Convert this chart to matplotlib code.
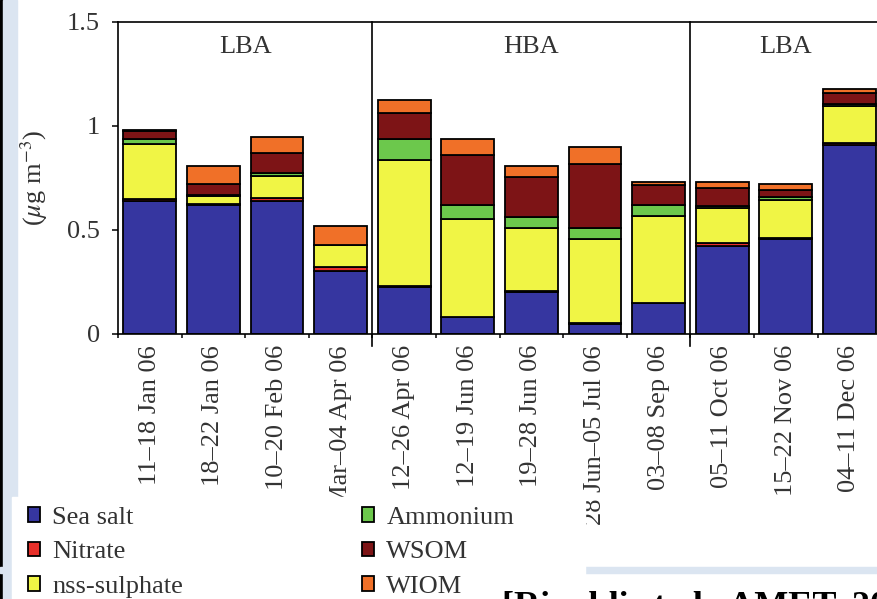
import matplotlib.pyplot as plt
import numpy as np
from matplotlib.patches import Rectangle

plt.rcParams["font.family"] = ["Liberation Serif", "DejaVu Serif"]
plt.rcParams["mathtext.fontset"] = "stix"

# --- data ---
periods = ["11–18 Jan 06", "18–22 Jan 06", "10–20 Feb 06", "29 Mar–04 Apr 06",
           "12–26 Apr 06", "12–19 Jun 06", "19–28 Jun 06", "28 Jun–05 Jul 06",
           "03–08 Sep 06", "05–11 Oct 06", "15–22 Nov 06", "04–11 Dec 06"]
sea_salt = [0.640, 0.620, 0.640, 0.305, 0.225, 0.080, 0.200, 0.050, 0.148, 0.425, 0.455, 0.910]
nitrate = [0.010, 0.005, 0.012, 0.015, 0.005, 0.003, 0.005, 0.003, 0.003, 0.012, 0.007, 0.010]
nss_sulphate = [0.262, 0.037, 0.110, 0.107, 0.608, 0.471, 0.306, 0.405, 0.418, 0.170, 0.180, 0.175]
ammonium = [0.025, 0.008, 0.013, 0.000, 0.098, 0.068, 0.050, 0.051, 0.051, 0.010, 0.015, 0.012]
wsom = [0.040, 0.050, 0.093, 0.000, 0.127, 0.240, 0.192, 0.310, 0.098, 0.085, 0.035, 0.050]
wiom = [0.005, 0.090, 0.080, 0.093, 0.062, 0.077, 0.053, 0.080, 0.012, 0.028, 0.028, 0.020]

components = ["Sea salt", "Nitrate", "nss-sulphate", "Ammonium", "WSOM", "WIOM"]
colors = ["#3636a0", "#e8302a", "#f0f545", "#6cc84c", "#7d1416", "#f07028"]
groups = ["LBA", "HBA", "LBA"]
group_sizes = [4, 5, 3]

W, H = 877, 599
fig = plt.figure(figsize=(W / 100, H / 100), dpi=100)

# slide decorations
fig.add_artist(Rectangle((0, 0), 3 / W, 1, transform=fig.transFigure,
                         color="black", zorder=1))
fig.add_artist(Rectangle((3 / W, 0), 14 / W, 1, transform=fig.transFigure,
                         color="#dbe5f1", zorder=1))
fig.add_artist(Rectangle((0, (H - 573) / H), 1, 6 / H, transform=fig.transFigure,
                         color="#dbe5f1", zorder=1))
fig.add_artist(Rectangle((12 / W, 0), (585 - 12) / W, (H - 497) / H,
                         transform=fig.transFigure, color="white", zorder=4))

pitch = 63.6
n = len(periods)
ax = fig.add_axes([118 / W, (H - 334) / H, n * pitch / W, 312 / H])

x = np.arange(n)
bottom = np.zeros(n)
handles = []
for name, vals, col in zip(components, [sea_salt, nitrate, nss_sulphate, ammonium, wsom, wiom], colors):
    bars = ax.bar(x, vals, 0.83, bottom=bottom, color=col, edgecolor="black",
                  linewidth=1.3, label=name)
    handles.append(bars)
    bottom += np.array(vals)

ax.set_xlim(-0.5, n - 0.5)
ax.set_ylim(0, 1.5)
ax.set_yticks([0, 0.5, 1, 1.5])
ax.set_yticklabels(["0", "0.5", "1", "1.5"])
ax.set_xticks(x)
ax.set_xticklabels(periods, rotation=90, va="top", ha="center")
ax.set_xticks(np.arange(n + 1) - 0.5, minor=True)
ax.tick_params(axis="x", which="major", length=0, pad=8, labelsize=19, labelcolor="#333333")
ax.tick_params(axis="x", which="minor", length=3, width=1.1, direction="out")
ax.tick_params(axis="y", length=4, width=1.1, direction="out", pad=9,
               labelsize=19, labelcolor="#333333")
for s in ax.spines.values():
    s.set_linewidth(1.2)

ax.set_ylabel(r"($\mu$g m$^{-3}$)", fontsize=19, color="#333333")
ax.yaxis.set_label_coords((50 - 118) / (n * pitch), 0.5)

# group separators and labels
start = 0
for k, (g, size) in enumerate(zip(groups, group_sizes)):
    ax.text(start + (size - 1) / 2, 1.38, g, ha="center", va="center",
            fontsize=19, color="#333333")
    start += size
    if k < len(groups) - 1:
        ax.axvline(start - 0.5, ymin=-0.04, ymax=1, color="black", lw=1.2, clip_on=False)

leg = fig.legend(handles=handles, loc="upper left", ncol=2,
                 bbox_to_anchor=(28 / W, (H - 507) / H), frameon=False,
                 fontsize=19, handlelength=0.46, handleheight=0.46,
                 handletextpad=0.45, labelspacing=0.47, columnspacing=6.8,
                 borderpad=0, borderaxespad=0)
leg.set_zorder(6)
for t in leg.get_texts():
    t.set_color("#333333")

fig.text(502 / W, (H - 615) / H, "[Rinaldi et al., AMET, 2010]", fontsize=26,
         fontweight="bold", va="baseline", ha="left", zorder=7)

fig.savefig("out.png", dpi=100)
